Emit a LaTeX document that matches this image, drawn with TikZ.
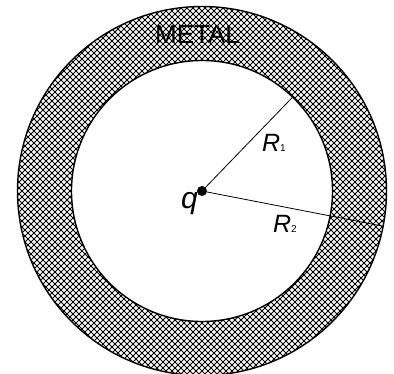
\documentclass[tikz,border=0pt]{standalone}
\usepackage{fontspec}
\setmainfont{Liberation Sans}
\usetikzlibrary{calc, positioning}

\tikzset{
  shell/.style={line width=1.4pt},
  radiusline/.style={line width=0.8pt},
  hatch/.style={line width=0.75pt},
  lbl/.style={font=\fontsize{25}{25}\selectfont\itshape, inner sep=0pt},
}
\newcommand{\subidx}[1]{{\fontsize{10}{10}\selectfont\upshape #1}}

\begin{document}
\begin{tikzpicture}[x=1pt,y=1pt]
  \useasboundingbox (0,0) rectangle (394,374);
  \coordinate (O) at (202,183);
  % metal shell: cross hatch clipped to the ring
  \begin{scope}[even odd rule]
    \clip (O) circle (184.5) (O) circle (130.5);
    \foreach \k in {-70,...,70} {
      \draw[hatch] ($(O)+(\k*6-200,-200)$) -- ++(400,400);
      \draw[hatch] ($(O)+(\k*6-200,200)$) -- ++(400,-400);
    }
  \end{scope}
  \draw[shell] (O) circle (184.5);
  \draw[shell] (O) circle (130.5);
  % radii
  \coordinate (a1) at ($(O)+(46:130.5)$);
  \coordinate (a2) at ($(O)+(-11:184.5)$);
  \draw[radiusline] (O) -- (a1);
  \draw[radiusline] (O) -- (a2);
  \fill (O) circle (5);
  % labels
  \node[lbl, font=\fontsize{30}{30}\selectfont\itshape] (q) at (189.5,170.5) {q};
  \node[lbl] (r1) at (274,231.5) {R\subidx{1}};
  \node[lbl] (r2) at (285,150) {R\subidx{2}};
  \node[font=\fontsize{26}{26}\selectfont, inner sep=0pt] (metal) at (197.5,339) {METAL};
\end{tikzpicture}
\end{document}
